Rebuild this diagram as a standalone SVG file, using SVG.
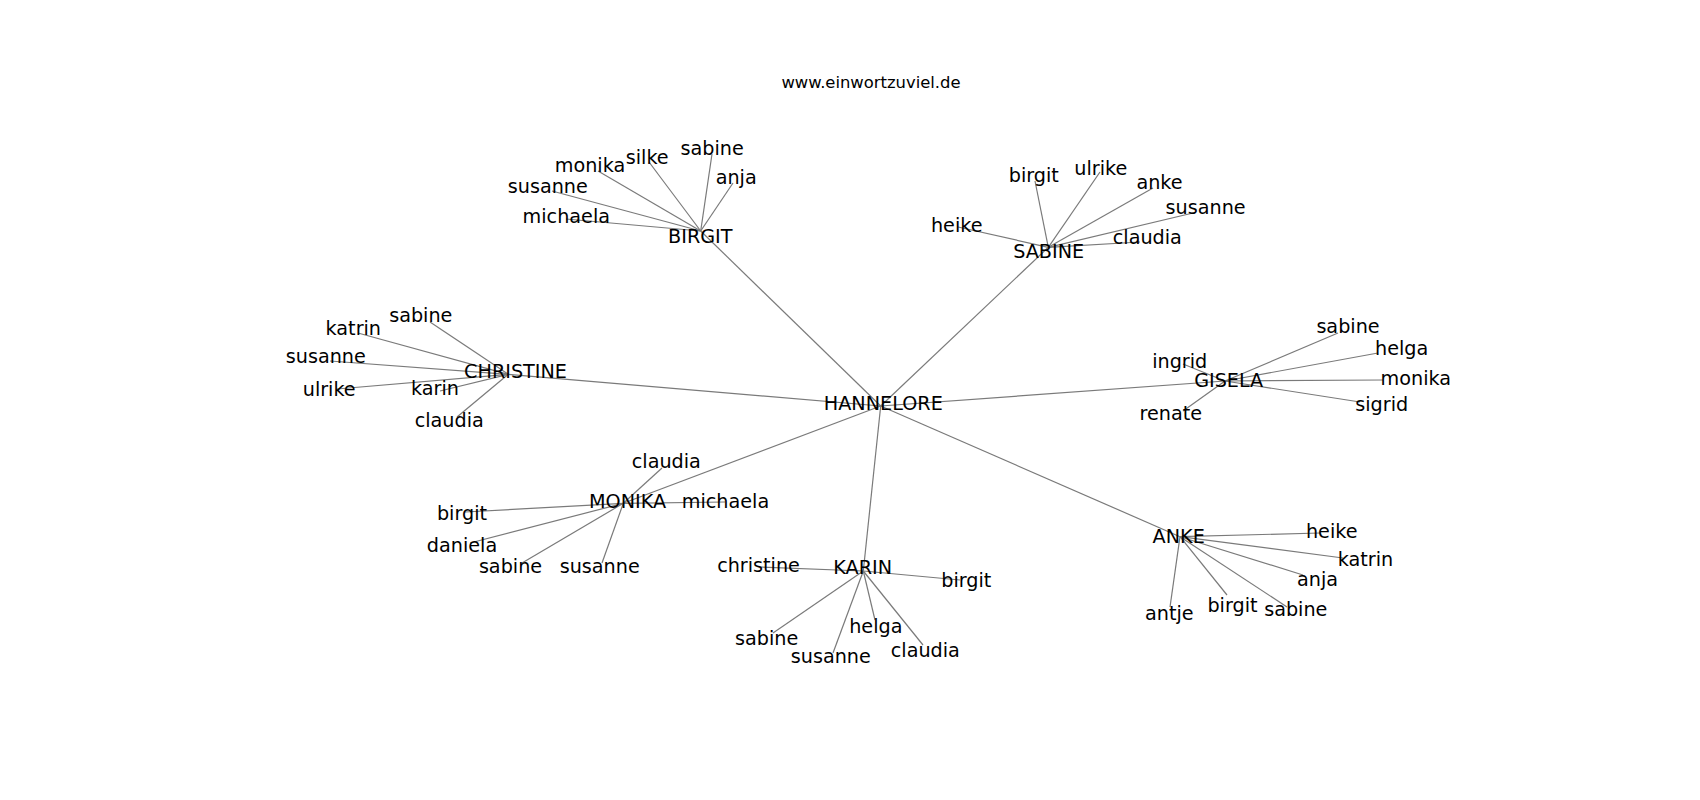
<svg xmlns="http://www.w3.org/2000/svg" width="1700" height="800" viewBox="0 0 1700 800">
<style>
  .bg { fill: #ffffff; }
  .e { stroke: #7a7a7a; stroke-width: 1.2; fill: none; }
  .t { font-family: "DejaVu Sans", "Liberation Sans", sans-serif; font-size: 19.2px; fill: #000000; text-anchor: middle; }
  .title { font-family: "DejaVu Sans", "Liberation Sans", sans-serif; font-size: 16.4px; fill: #000000; text-anchor: middle; }
</style>
<rect class="bg" x="0" y="0" width="1700" height="800"/>
<text class="title" x="871" y="87.7">www.einwortzuviel.de</text>
<g id="edges">
  <line class="e" x1="880.7" y1="406" x2="700.7" y2="231"/>
  <line class="e" x1="880.7" y1="406" x2="1048.3" y2="247.3"/>
  <line class="e" x1="880.7" y1="406" x2="508.3" y2="374.3"/>
  <line class="e" x1="880.7" y1="406" x2="1225" y2="381"/>
  <line class="e" x1="880.7" y1="406" x2="623.3" y2="503.3"/>
  <line class="e" x1="880.7" y1="406" x2="863.3" y2="571"/>
  <line class="e" x1="880.7" y1="406" x2="1180" y2="536.7"/>

  <line class="e" x1="700.7" y1="231" x2="566" y2="219"/>
  <line class="e" x1="700.7" y1="231" x2="552" y2="191"/>
  <line class="e" x1="700.7" y1="231" x2="598" y2="171"/>
  <line class="e" x1="700.7" y1="231" x2="649" y2="162"/>
  <line class="e" x1="700.7" y1="231" x2="712" y2="154"/>
  <line class="e" x1="700.7" y1="231" x2="733" y2="183"/>

  <line class="e" x1="1048.3" y1="247.3" x2="958" y2="227"/>
  <line class="e" x1="1048.3" y1="247.3" x2="1035" y2="181"/>
  <line class="e" x1="1048.3" y1="247.3" x2="1100" y2="172"/>
  <line class="e" x1="1048.3" y1="247.3" x2="1153" y2="188"/>
  <line class="e" x1="1048.3" y1="247.3" x2="1193" y2="213"/>
  <line class="e" x1="1048.3" y1="247.3" x2="1140" y2="242"/>

  <line class="e" x1="508.3" y1="374.3" x2="430" y2="322"/>
  <line class="e" x1="508.3" y1="374.3" x2="358" y2="333"/>
  <line class="e" x1="508.3" y1="374.3" x2="330" y2="361"/>
  <line class="e" x1="508.3" y1="374.3" x2="337" y2="389"/>
  <line class="e" x1="508.3" y1="374.3" x2="440" y2="391"/>
  <line class="e" x1="508.3" y1="374.3" x2="457" y2="417"/>

  <line class="e" x1="1225" y1="381" x2="1183" y2="364"/>
  <line class="e" x1="1225" y1="381" x2="1338" y2="333"/>
  <line class="e" x1="1225" y1="381" x2="1378" y2="353"/>
  <line class="e" x1="1225" y1="381" x2="1383" y2="380"/>
  <line class="e" x1="1225" y1="381" x2="1360" y2="402"/>
  <line class="e" x1="1225" y1="381" x2="1183" y2="411"/>

  <line class="e" x1="623.3" y1="503.3" x2="662" y2="468"/>
  <line class="e" x1="623.3" y1="503.3" x2="725" y2="502"/>
  <line class="e" x1="623.3" y1="503.3" x2="465" y2="512"/>
  <line class="e" x1="623.3" y1="503.3" x2="470" y2="543"/>
  <line class="e" x1="623.3" y1="503.3" x2="522" y2="563"/>
  <line class="e" x1="623.3" y1="503.3" x2="602" y2="563"/>

  <line class="e" x1="863.3" y1="571" x2="760" y2="567"/>
  <line class="e" x1="863.3" y1="571" x2="960" y2="580"/>
  <line class="e" x1="863.3" y1="571" x2="773" y2="633"/>
  <line class="e" x1="863.3" y1="571" x2="833" y2="653"/>
  <line class="e" x1="863.3" y1="571" x2="875" y2="620"/>
  <line class="e" x1="863.3" y1="571" x2="923" y2="645"/>

  <line class="e" x1="1180" y1="536.7" x2="1320" y2="533"/>
  <line class="e" x1="1180" y1="536.7" x2="1343" y2="558"/>
  <line class="e" x1="1180" y1="536.7" x2="1303" y2="575"/>
  <line class="e" x1="1180" y1="536.7" x2="1287" y2="607"/>
  <line class="e" x1="1180" y1="536.7" x2="1227" y2="595"/>
  <line class="e" x1="1180" y1="536.7" x2="1170" y2="607"/>
</g>

<g id="n-hannelore"><text class="t" x="883.3" y="410">HANNELORE</text></g>

<g id="n-birgit"><text class="t" x="700.3" y="243.3">BIRGIT</text></g>
<g id="n-birgit-michaela"><text class="t" x="566.3" y="222.7">michaela</text></g>
<g id="n-birgit-susanne"><text class="t" x="547.8" y="193.3">susanne</text></g>
<g id="n-birgit-monika"><text class="t" x="590" y="171.7">monika</text></g>
<g id="n-birgit-silke"><text class="t" x="647.2" y="164">silke</text></g>
<g id="n-birgit-sabine"><text class="t" x="712.2" y="155">sabine</text></g>
<g id="n-birgit-anja"><text class="t" x="736.2" y="184.3">anja</text></g>

<g id="n-sabine"><text class="t" x="1048.7" y="258.3">SABINE</text></g>
<g id="n-sabine-heike"><text class="t" x="956.7" y="231.7">heike</text></g>
<g id="n-sabine-birgit"><text class="t" x="1033.8" y="181.7">birgit</text></g>
<g id="n-sabine-ulrike"><text class="t" x="1100.8" y="175">ulrike</text></g>
<g id="n-sabine-anke"><text class="t" x="1159.5" y="189">anke</text></g>
<g id="n-sabine-susanne"><text class="t" x="1205.6" y="214.3">susanne</text></g>
<g id="n-sabine-claudia"><text class="t" x="1147.3" y="244">claudia</text></g>

<g id="n-christine"><text class="t" x="515.5" y="378.3">CHRISTINE</text></g>
<g id="n-christine-sabine"><text class="t" x="420.8" y="321.7">sabine</text></g>
<g id="n-christine-katrin"><text class="t" x="353.3" y="335">katrin</text></g>
<g id="n-christine-susanne"><text class="t" x="325.8" y="363.3">susanne</text></g>
<g id="n-christine-ulrike"><text class="t" x="329.2" y="395.7">ulrike</text></g>
<g id="n-christine-karin"><text class="t" x="435" y="395">karin</text></g>
<g id="n-christine-claudia"><text class="t" x="449.2" y="426.7">claudia</text></g>

<g id="n-gisela"><text class="t" x="1228.7" y="386.7">GISELA</text></g>
<g id="n-gisela-ingrid"><text class="t" x="1179.7" y="367.7">ingrid</text></g>
<g id="n-gisela-sabine"><text class="t" x="1348" y="333.3">sabine</text></g>
<g id="n-gisela-helga"><text class="t" x="1401.7" y="355">helga</text></g>
<g id="n-gisela-monika"><text class="t" x="1415.8" y="385">monika</text></g>
<g id="n-gisela-sigrid"><text class="t" x="1381.7" y="411">sigrid</text></g>
<g id="n-gisela-renate"><text class="t" x="1170.8" y="420">renate</text></g>

<g id="n-monika"><text class="t" x="627.5" y="508.3">MONIKA</text></g>
<g id="n-monika-claudia"><text class="t" x="666.3" y="468.3">claudia</text></g>
<g id="n-monika-michaela"><text class="t" x="725.5" y="508.3">michaela</text></g>
<g id="n-monika-birgit"><text class="t" x="462" y="520">birgit</text></g>
<g id="n-monika-daniela"><text class="t" x="462" y="551.7">daniela</text></g>
<g id="n-monika-sabine"><text class="t" x="510.5" y="573.3">sabine</text></g>
<g id="n-monika-susanne"><text class="t" x="599.7" y="573.3">susanne</text></g>

<g id="n-karin"><text class="t" x="862.7" y="574.3">KARIN</text></g>
<g id="n-karin-christine"><text class="t" x="758.5" y="571.7">christine</text></g>
<g id="n-karin-birgit"><text class="t" x="966.3" y="586.7">birgit</text></g>
<g id="n-karin-sabine"><text class="t" x="766.7" y="645">sabine</text></g>
<g id="n-karin-susanne"><text class="t" x="830.8" y="663.3">susanne</text></g>
<g id="n-karin-helga"><text class="t" x="875.8" y="633.3">helga</text></g>
<g id="n-karin-claudia"><text class="t" x="925.3" y="656.7">claudia</text></g>

<g id="n-anke"><text class="t" x="1178.7" y="542.7">ANKE</text></g>
<g id="n-anke-heike"><text class="t" x="1331.7" y="538.3">heike</text></g>
<g id="n-anke-katrin"><text class="t" x="1365.5" y="566">katrin</text></g>
<g id="n-anke-anja"><text class="t" x="1317.5" y="586">anja</text></g>
<g id="n-anke-sabine"><text class="t" x="1295.8" y="616">sabine</text></g>
<g id="n-anke-birgit"><text class="t" x="1232.5" y="611.7">birgit</text></g>
<g id="n-anke-antje"><text class="t" x="1169.3" y="620">antje</text></g>
</svg>
